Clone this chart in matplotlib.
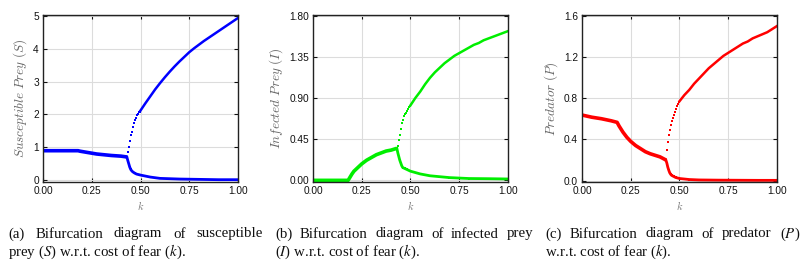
import matplotlib
matplotlib.use('Agg')
import matplotlib.pyplot as plt

# pre-bifurcation branch
k_pre = [0.00, 0.05, 0.10, 0.15, 0.18, 0.19, 0.20, 0.21, 0.22, 0.23, 0.25,
         0.275, 0.30, 0.325, 0.35, 0.375, 0.40, 0.43]
S_pre = [0.90, 0.90, 0.90, 0.90, 0.90, 0.885, 0.875, 0.865, 0.855, 0.845, 0.825,
         0.80, 0.785, 0.77, 0.755, 0.745, 0.735, 0.71]
I_pre = [0.00, 0.00, 0.00, 0.00, 0.00, 0.035, 0.07, 0.10, 0.12, 0.14, 0.18,
         0.22, 0.25, 0.28, 0.30, 0.32, 0.33, 0.35]
P_pre = [0.636, 0.615, 0.60, 0.58, 0.565, 0.53, 0.50, 0.47, 0.445, 0.42, 0.38,
         0.34, 0.31, 0.28, 0.26, 0.245, 0.23, 0.20]

# sparse points of the upper branch just after the jump
k_jump = [0.435, 0.44, 0.445, 0.45, 0.455, 0.46, 0.465, 0.47, 0.475, 0.48, 0.485, 0.49, 0.495]
S_jump = [0.85, 1.00, 1.20, 1.38, 1.48, 1.62, 1.74, 1.83, 1.90, 1.97, 2.02, 2.06, 2.09]
I_jump = [0.37, 0.44, 0.50, 0.56, 0.63, 0.66, 0.70, 0.72, 0.74, 0.76, 0.78, 0.80, 0.81]
P_jump = [0.30, 0.37, 0.44, 0.49, 0.54, 0.58, 0.61, 0.64, 0.67, 0.69, 0.72, 0.74, 0.76]

# upper branch
k_up = [0.50, 0.525, 0.55, 0.575, 0.60, 0.625, 0.65, 0.675, 0.70, 0.725, 0.75,
        0.775, 0.80, 0.825, 0.85, 0.875, 0.90, 0.925, 0.95, 0.975, 1.00]
S_up = [2.12, 2.34, 2.55, 2.76, 2.95, 3.13, 3.30, 3.46, 3.61, 3.75, 3.89,
        4.01, 4.12, 4.23, 4.33, 4.43, 4.53, 4.63, 4.73, 4.83, 4.93]
I_up = [0.82, 0.90, 0.97, 1.05, 1.12, 1.18, 1.23, 1.28, 1.32, 1.36, 1.39,
        1.42, 1.45, 1.48, 1.50, 1.53, 1.55, 1.57, 1.59, 1.61, 1.63]
P_up = [0.77, 0.83, 0.88, 0.94, 0.99, 1.04, 1.09, 1.13, 1.17, 1.21, 1.24,
        1.27, 1.30, 1.33, 1.35, 1.38, 1.40, 1.42, 1.44, 1.47, 1.50]

# lower branch
k_low = [0.43, 0.435, 0.44, 0.445, 0.45, 0.455, 0.46, 0.47, 0.48, 0.50, 0.55, 0.60, 0.70, 0.80, 0.90, 1.00]
S_low = [0.71, 0.60, 0.50, 0.40, 0.33, 0.29, 0.26, 0.22, 0.19, 0.16, 0.10, 0.06, 0.04, 0.03, 0.02, 0.02]
I_low = [0.35, 0.30, 0.26, 0.22, 0.19, 0.16, 0.14, 0.13, 0.12, 0.10, 0.07, 0.05, 0.03, 0.02, 0.018, 0.015]
P_low = [0.20, 0.17, 0.13, 0.10, 0.075, 0.06, 0.05, 0.04, 0.03, 0.02, 0.01, 0.006, 0.004, 0.003, 0.002, 0.002]

x_ticks = [0.00, 0.25, 0.50, 0.75, 1.00]
panels = [
    dict(pre=S_pre, jump=S_jump, up=S_up, low=S_low, color='#0000ff',
         ylabel=r'$Susceptible\ Prey\ (S)$', yticks=[0, 1, 2, 3, 4, 5],
         yfmt='{:.0f}', ylim=(-0.05, 5.02), left=43),
    dict(pre=I_pre, jump=I_jump, up=I_up, low=I_low, color='#00ee00',
         ylabel=r'$Infected\ Prey\ (I)$', yticks=[0, 0.45, 0.9, 1.35, 1.8],
         yfmt='{:.2f}', ylim=(-0.018, 1.806), left=313),
    dict(pre=P_pre, jump=P_jump, up=P_up, low=P_low, color='#ff0000',
         ylabel=r'$Predator\ (P)$', yticks=[0, 0.4, 0.8, 1.2, 1.6],
         yfmt='{:.1f}', ylim=(-0.014, 1.607), left=582),
]

captions = [
    (8, 263, ['(a)', 'Bifurcation', 'diagram', 'of', 'susceptible'],
     r'prey ($S$) w.r.t. cost of fear ($k$).'),
    (275, 533, ['(b)', 'Bifurcation', 'diagram', 'of', 'infected', 'prey'],
     r'($I$) w.r.t. cost of fear ($k$).'),
    (545, 800, ['(c)', 'Bifurcation', 'diagram', 'of', 'predator', '($P$)'],
     r'w.r.t. cost of fear ($k$).'),
]

plt.rcParams['mathtext.fontset'] = 'cm'

W, H = 812, 268
fig = plt.figure(figsize=(W / 100, H / 100), dpi=100)

for p in panels:
    ax = fig.add_axes([p['left'] / W, 1 - 182 / H, 195 / W, 167 / H])
    c = p['color']
    ax.plot(k_pre, p['pre'], color=c, lw=2.6, solid_capstyle='butt')
    ax.plot(k_jump, p['jump'], 's', color=c, ms=1.9, mew=0)
    ax.plot(k_up, p['up'], color=c, lw=1.8)
    ax.plot(k_low, p['low'], color=c, lw=2.0, marker='s', ms=1.8, mew=0)
    ax.set_xlim(0, 1)
    ax.set_ylim(*p['ylim'])
    ax.set_xticks(x_ticks)
    ax.set_xticklabels(['{:.2f}'.format(t) for t in x_ticks])
    ax.set_yticks(p['yticks'])
    ax.set_yticklabels([p['yfmt'].format(t) for t in p['yticks']])
    ax.grid(True, color='#dcdcdc', lw=0.8)
    ax.set_axisbelow(True)
    ax.tick_params(direction='in', length=3, width=0.8, top=True, right=True,
                   labelsize=7.3, colors='#111111', pad=3)
    for lab in ax.get_xticklabels() + ax.get_yticklabels():
        lab.set_fontfamily('Liberation Sans')
    for s in ax.spines.values():
        s.set_linewidth(1.0)
        s.set_color('#222222')
    ax.set_ylabel(p['ylabel'], fontsize=9.5, color='#666666', labelpad=3)
    ax.set_xlabel(r'$k$', fontsize=7.5, color='#777777', labelpad=2)

# captions, first line justified
renderer = fig.canvas.get_renderer()
cap_font = dict(fontfamily='Liberation Serif', fontsize=10.7, color='#111111',
                math_fontfamily='stix')
for x0, x1, words, second in captions:
    texts = [fig.text(0, 1 - 234 / H, w, va='center', ha='left', **cap_font)
             for w in words]
    widths = [t.get_window_extent(renderer).width for t in texts]
    gap = (x1 - x0 - sum(widths)) / (len(words) - 1)
    x = x0
    for t, w in zip(texts, widths):
        t.set_x(x / W)
        x += w + gap
    fig.text(x0 / W, 1 - 252 / H, second, va='center', ha='left', **cap_font)

fig.savefig('out.png', dpi=100)
